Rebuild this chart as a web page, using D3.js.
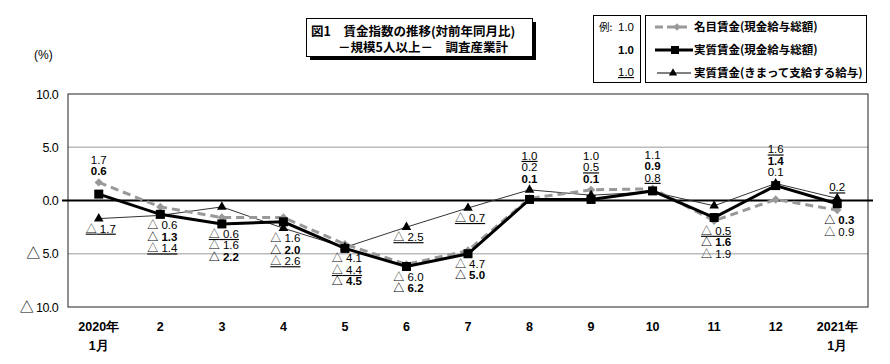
<!DOCTYPE html>
<html>
<head>
<meta charset="utf-8">
<script src="https://cdn.jsdelivr.net/npm/d3@7"></script>
<style>
  body { margin: 0; background: #fff; }
  svg { display: block; }
  .jp { font-family: "Noto Sans CJK JP", sans-serif; }
  .num { font-family: "Liberation Sans Narrow", "Arial Narrow", "Liberation Sans", sans-serif; }
</style>
</head>
<body>
<div id="chart"></div>
<script>
// data
var months = ["2020年1月", "2", "3", "4", "5", "6", "7", "8", "9", "10", "11", "12", "2021年1月"];
var nominal = [1.7, -0.6, -1.6, -1.6, -4.1, -6.0, -4.7, 0.2, 1.0, 1.1, -1.9, 0.1, -0.9];
var real = [0.6, -1.3, -2.2, -2.0, -4.5, -6.2, -5.0, 0.1, 0.1, 0.9, -1.6, 1.4, -0.3];
var scheduled = [-1.7, -1.4, -0.6, -2.6, -4.4, -2.5, -0.7, 1.0, 0.5, 0.8, -0.5, 1.6, 0.2];
var yTicks = [10, 5, 0, -5, -10];
var seriesNames = ["名目賃金(現金給与総額)", "実質賃金(現金給与総額)", "実質賃金(きまって支給する給与)"];

// which values are stacked where, top to bottom
var labelGroups = [
  {i: 0, pos: "above", keys: ["nom", "real"]}, {i: 0, pos: "below", keys: ["sch"]},
  {i: 1, pos: "below", keys: ["nom", "real", "sch"]},
  {i: 2, pos: "below", keys: ["sch", "nom", "real"]},
  {i: 3, pos: "below", keys: ["nom", "real", "sch"]},
  {i: 4, pos: "below", keys: ["nom", "sch", "real"]},
  {i: 5, pos: "below", keys: ["nom", "real"]}, {i: 5, pos: "below", keys: ["sch"]},
  {i: 6, pos: "below", keys: ["nom", "real"]}, {i: 6, pos: "below", keys: ["sch"]},
  {i: 7, pos: "above", keys: ["sch", "nom", "real"]},
  {i: 8, pos: "above", keys: ["nom", "sch", "real"]},
  {i: 9, pos: "above", keys: ["nom", "real", "sch"]},
  {i: 10, pos: "below", keys: ["sch", "real", "nom"]},
  {i: 11, pos: "above", keys: ["sch", "real", "nom"]},
  {i: 12, pos: "above", keys: ["sch"]}, {i: 12, pos: "below", keys: ["real", "nom"]}
];

var series = {nom: nominal, real: real, sch: scheduled};

var W = 890, H = 364;
var plot = {left: 68, right: 868, top: 94, bottom: 307};

var svg = d3.select("#chart").append("svg")
  .attr("width", W).attr("height", H);

var x = d3.scaleBand().domain(d3.range(months.length)).range([plot.left, plot.right]);
var y = d3.scaleLinear().domain([-10, 10]).range([plot.bottom, plot.top]);
var cx = function(i) { return x(i) + x.bandwidth() / 2; };

// writes a value into a text element, negative as "△ n.n" with a CJK triangle
function writeVal(t, v, triSize) {
  t.text(null);
  if (v < 0) {
    var tri = t.append("tspan").attr("font-family", "'Noto Sans CJK JP', sans-serif").text("△");
    if (triSize) tri.attr("font-size", triSize);
    t.append("tspan").text(" " + Math.abs(v).toFixed(1));
  } else {
    t.append("tspan").text(v.toFixed(1));
  }
}

// grid lines at +-5
svg.selectAll(".grid").data([5, -5]).enter().append("line")
  .attr("x1", plot.left).attr("x2", plot.right)
  .attr("y1", function(d) { return y(d); }).attr("y2", function(d) { return y(d); })
  .attr("stroke", "#bbb").attr("stroke-width", 1.5);

svg.append("rect")
  .attr("x", plot.left).attr("y", plot.top)
  .attr("width", plot.right - plot.left).attr("height", plot.bottom - plot.top)
  .attr("fill", "none").attr("stroke", "#222").attr("stroke-width", 1);

// y axis
var yAxis = svg.append("g")
  .attr("transform", "translate(" + plot.left + ",0)")
  .call(d3.axisLeft(y).tickValues(yTicks).tickSize(0).tickPadding(10));
yAxis.select(".domain").remove();
yAxis.selectAll("text")
  .attr("font-family", "'Liberation Sans', Arial, sans-serif")
  .attr("font-size", 12.5).attr("letter-spacing", -0.6).attr("fill", "#000")
  .each(function(d) { writeVal(d3.select(this), d, 14); });

svg.append("text").attr("x", 34).attr("y", 59)
  .attr("font-family", "'Liberation Sans', sans-serif").attr("font-size", 12)
  .text("(%)");

// x axis
var xAxis = svg.append("g")
  .attr("transform", "translate(0," + plot.bottom + ")")
  .call(d3.axisBottom(x).tickSize(0).tickPadding(0).tickFormat(""));
xAxis.select(".domain").remove();
xAxis.selectAll(".tick").each(function(i) {
  var parts = months[i].indexOf("年") > 0 ? [months[i].split("年")[0] + "年", months[i].split("年")[1]] : [months[i]];
  var t = d3.select(this).append("text")
    .attr("class", "num").attr("fill", "#000")
    .attr("font-size", 12.5).attr("font-weight", "bold").attr("text-anchor", "middle");
  parts.forEach(function(p, k) {
    t.append("tspan").attr("x", 0).attr("y", 24 + k * 19).text(p);
  });
});

// zero line
svg.append("line")
  .attr("x1", 62).attr("x2", 873)
  .attr("y1", y(0)).attr("y2", y(0))
  .attr("stroke", "#000").attr("stroke-width", 2);

var line = function(vals) {
  return d3.line().x(function(d, i) { return cx(i); }).y(function(d) { return y(d); })(vals);
};

// scheduled (thin, triangles)
svg.append("path").attr("d", line(scheduled))
  .attr("fill", "none").attr("stroke", "#333").attr("stroke-width", 1);
// nominal (gray dashed, diamonds)
svg.append("path").attr("d", line(nominal))
  .attr("fill", "none").attr("stroke", "#999").attr("stroke-width", 3)
  .attr("stroke-dasharray", "8,5");
svg.selectAll(".dia").data(nominal).enter().append("path")
  .attr("d", d3.symbol().type(d3.symbolDiamond2).size(45))
  .attr("transform", function(d, i) { return "translate(" + cx(i) + "," + y(d) + ")"; })
  .attr("fill", "#999");
// real (thick black, squares)
svg.append("path").attr("d", line(real))
  .attr("fill", "none").attr("stroke", "#000").attr("stroke-width", 3);
svg.selectAll(".sq").data(real).enter().append("rect")
  .attr("x", function(d, i) { return cx(i) - 4.5; })
  .attr("y", function(d) { return y(d) - 4.5; })
  .attr("width", 9).attr("height", 9).attr("fill", "#000");
svg.selectAll(".tri").data(scheduled).enter().append("path")
  .attr("d", d3.symbol().type(d3.symbolTriangle).size(40))
  .attr("transform", function(d, i) { return "translate(" + cx(i) + "," + y(d) + ")"; })
  .attr("fill", "#000");

// data labels
var step = 11.5;
labelGroups.forEach(function(g) {
  var ys = g.keys.map(function(k) { return y(series[k][g.i]); });
  var n = g.keys.length;
  var start = g.pos === "above" ? d3.min(ys) - 11 - (n - 1) * step : d3.max(ys) + 10;
  g.keys.forEach(function(k, j) {
    var v = series[k][g.i];
    var t = svg.append("text")
      .attr("class", "num")
      .attr("x", cx(g.i) + (v < 0 ? 2 : 0))
      .attr("y", start + j * step)
      .attr("dy", "0.35em")
      .attr("text-anchor", "middle")
      .attr("font-size", 11.5)
      .attr("font-weight", k === "real" ? "bold" : "normal")
      .style("text-decoration", k === "sch" ? "underline" : "none");
    writeVal(t, v, 11);
  });
});

// title box with shadow
svg.append("rect").attr("x", 310).attr("y", 22).attr("width", 226).attr("height", 38).attr("fill", "#000");
svg.append("rect").attr("x", 306.5).attr("y", 18.5).attr("width", 226).attr("height", 38)
  .attr("fill", "#fff").attr("stroke", "#000").attr("stroke-width", 1);
svg.append("text").attr("class", "jp").attr("x", 311).attr("y", 36)
  .attr("font-size", 12.5).attr("font-weight", "bold")
  .text("図1　賃金指数の推移(対前年同月比)");
svg.append("text").attr("class", "jp").attr("x", 338).attr("y", 52)
  .attr("font-size", 12.5).attr("font-weight", "bold")
  .text("－規模5人以上－　調査産業計");

// example box
svg.append("rect").attr("x", 593.5).attr("y", 15.5).attr("width", 47).attr("height", 67)
  .attr("fill", "#fff").attr("stroke", "#000");
svg.append("text").attr("class", "jp").attr("x", 599).attr("y", 31)
  .attr("font-size", 10.5).text("例:");
var exStyles = ["normal", "bold", "under"];
exStyles.forEach(function(s, j) {
  svg.append("text").attr("class", "num")
    .attr("x", 634).attr("y", 31 + j * 22.5)
    .attr("text-anchor", "end").attr("font-size", 11.5)
    .attr("font-weight", s === "bold" ? "bold" : "normal")
    .style("text-decoration", s === "under" ? "underline" : "none")
    .text("1.0");
});

// legend box
svg.append("rect").attr("x", 645.5).attr("y", 15.5).attr("width", 221).attr("height", 67)
  .attr("fill", "#fff").attr("stroke", "#000");
var legY = [27, 50, 73];
seriesNames.forEach(function(name, j) {
  var ly = legY[j];
  var lg = svg.append("g");
  if (j === 0) {
    lg.append("line").attr("x1", 655).attr("x2", 691).attr("y1", ly).attr("y2", ly)
      .attr("stroke", "#999").attr("stroke-width", 3).attr("stroke-dasharray", "8,4");
    lg.append("path").attr("d", d3.symbol().type(d3.symbolDiamond2).size(35))
      .attr("transform", "translate(677," + ly + ")").attr("fill", "#999");
  } else if (j === 1) {
    lg.append("line").attr("x1", 655).attr("x2", 693).attr("y1", ly).attr("y2", ly)
      .attr("stroke", "#000").attr("stroke-width", 3);
    lg.append("rect").attr("x", 671).attr("y", ly - 4).attr("width", 8).attr("height", 8).attr("fill", "#000");
  } else {
    lg.append("line").attr("x1", 657).attr("x2", 691).attr("y1", ly).attr("y2", ly)
      .attr("stroke", "#000").attr("stroke-width", 1);
    lg.append("path").attr("d", d3.symbol().type(d3.symbolTriangle).size(30))
      .attr("transform", "translate(673," + ly + ")").attr("fill", "#000");
  }
  lg.append("text").attr("class", "jp").attr("x", 694).attr("y", ly).attr("dy", "0.35em")
    .attr("font-size", 11.5).attr("font-weight", "bold").text(name);
});
</script>
</body>
</html>
